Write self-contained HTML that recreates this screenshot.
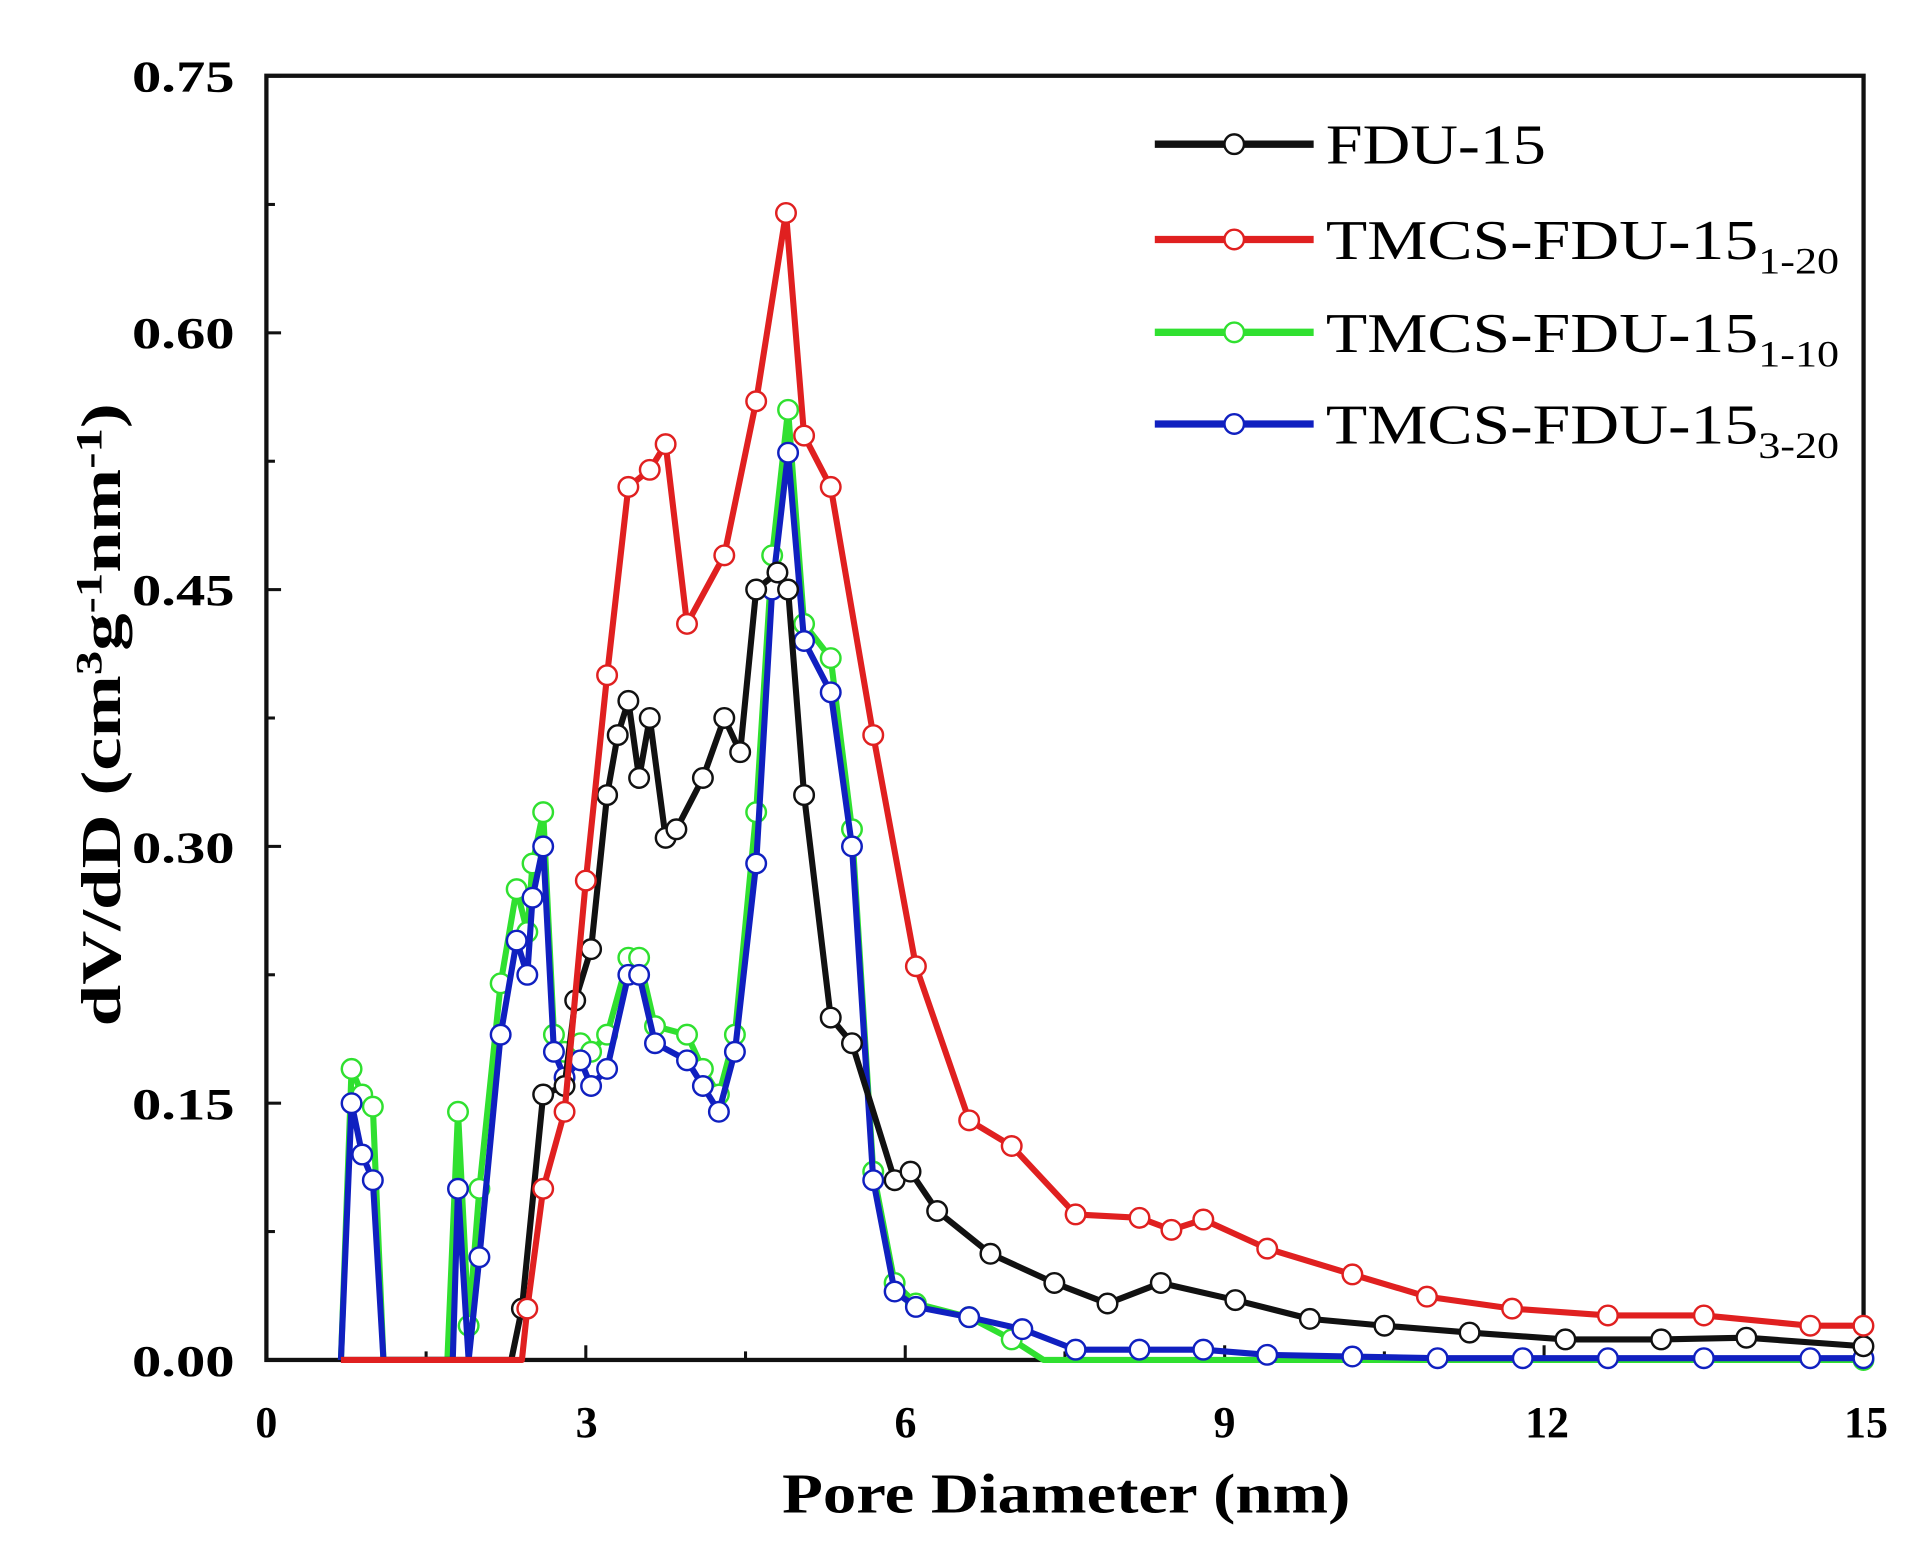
<!DOCTYPE html>
<html><head><meta charset="utf-8"><style>html,body{margin:0;padding:0;background:#fff}svg{display:block}</style></head>
<body>
<svg id="s" width="1910" height="1564" viewBox="0 0 1563 1280" preserveAspectRatio="none" xmlns="http://www.w3.org/2000/svg" font-family="Liberation Serif, serif" font-weight="bold">
<rect x="218" y="62" width="1307" height="1051" fill="none" stroke="#111" stroke-width="3.5"/>
<g id="ticks" stroke="#111" stroke-width="2.5"></g>
<g font-size="36" text-anchor="end">
<text x="192" y="1126" textLength="84" lengthAdjust="spacingAndGlyphs">0.00</text><text x="192" y="916" textLength="84" lengthAdjust="spacingAndGlyphs">0.15</text><text x="192" y="706" textLength="84" lengthAdjust="spacingAndGlyphs">0.30</text><text x="192" y="495" textLength="84" lengthAdjust="spacingAndGlyphs">0.45</text><text x="192" y="285" textLength="84" lengthAdjust="spacingAndGlyphs">0.60</text><text x="192" y="75" textLength="84" lengthAdjust="spacingAndGlyphs">0.75</text>
</g>
<g font-size="36" text-anchor="middle">
<text x="218" y="1176">0</text><text x="480" y="1176">3</text><text x="741" y="1176">6</text><text x="1002" y="1176">9</text><text x="1266" y="1176">12</text><text x="1527" y="1176">15</text>
</g>
<text x="640" y="1238" font-size="46" textLength="465" lengthAdjust="spacingAndGlyphs">Pore Diameter (nm)</text>
<text transform="translate(98,840) rotate(-90)" font-size="46" textLength="510" lengthAdjust="spacingAndGlyphs">dV/dD (cm<tspan dy="-15" font-size="30">3</tspan><tspan dy="15">g</tspan><tspan dy="-15" font-size="30">-1</tspan><tspan dy="15">nm</tspan><tspan dy="-15" font-size="30">-1</tspan><tspan dy="15">)</tspan></text>
<g id="data"></g>
<g font-weight="normal" font-size="46">
<line x1="945" y1="118" x2="1075" y2="118" stroke="#111" stroke-width="6"/><circle cx="1010" cy="118" r="8" fill="#fff" stroke="#111" stroke-width="2"/>
<text x="1085" y="134" textLength="180" lengthAdjust="spacingAndGlyphs">FDU-15</text>
<line x1="945" y1="196" x2="1075" y2="196" stroke="#e02020" stroke-width="6"/><circle cx="1010" cy="196" r="8" fill="#fff" stroke="#e02020" stroke-width="2"/>
<text x="1085" y="212" textLength="420" lengthAdjust="spacingAndGlyphs">TMCS-FDU-15<tspan font-size="30" dy="12">1-20</tspan></text>
<line x1="945" y1="272" x2="1075" y2="272" stroke="#30e030" stroke-width="6"/><circle cx="1010" cy="272" r="8" fill="#fff" stroke="#30e030" stroke-width="2"/>
<text x="1085" y="288" textLength="420" lengthAdjust="spacingAndGlyphs">TMCS-FDU-15<tspan font-size="30" dy="12">1-10</tspan></text>
<line x1="945" y1="347" x2="1075" y2="347" stroke="#1020c0" stroke-width="6"/><circle cx="1010" cy="347" r="8" fill="#fff" stroke="#1020c0" stroke-width="2"/>
<text x="1085" y="363" textLength="420" lengthAdjust="spacingAndGlyphs">TMCS-FDU-15<tspan font-size="30" dy="12">3-20</tspan></text>
</g>
</svg>
<script>
var X=function(x){return 218+x*87.13},Y=function(y){return 1113-y*1401};
var t='';
for(var i=0;i<=15;i+=1.5){var l=(Math.round(i*10)%30==0)?12:7;t+='<line x1="'+X(i)+'" y1="1113" x2="'+X(i)+'" y2="'+(1113-l)+'"/>';}
for(var k=0;k<=10;k++){var v=k*0.075;var l=(k%2==0)?12:7;t+='<line x1="218" y1="'+Y(v)+'" x2="'+(218+l)+'" y2="'+Y(v)+'"/>';}
document.getElementById('ticks').innerHTML=t;
var S={
green:['#30e030',[[0.7,0],[0.8,0.17],[0.9,0.155],[1.0,0.148],[1.1,0],[1.7,0],[1.8,0.145],[1.9,0.02],[2.0,0.1],[2.2,0.22],[2.35,0.275],[2.45,0.25],[2.5,0.29],[2.6,0.32],[2.7,0.19],[2.8,0.18],[2.95,0.185],[3.05,0.18],[3.2,0.19],[3.4,0.235],[3.5,0.235],[3.65,0.195],[3.95,0.19],[4.1,0.17],[4.25,0.155],[4.4,0.19],[4.6,0.32],[4.75,0.47],[4.9,0.555],[5.05,0.43],[5.3,0.41],[5.5,0.31],[5.7,0.11],[5.9,0.045],[6.1,0.033],[6.6,0.025],[7.0,0.012],[7.3,0],[15,0]]],
blue:['#1020c0',[[0.7,0],[0.8,0.15],[0.9,0.12],[1.0,0.105],[1.1,0],[1.75,0],[1.8,0.1],[1.9,0],[2.0,0.06],[2.2,0.19],[2.35,0.245],[2.45,0.225],[2.5,0.27],[2.6,0.3],[2.7,0.18],[2.8,0.165],[2.95,0.175],[3.05,0.16],[3.2,0.17],[3.4,0.225],[3.5,0.225],[3.65,0.185],[3.95,0.175],[4.1,0.16],[4.25,0.145],[4.4,0.18],[4.6,0.29],[4.75,0.45],[4.9,0.53],[5.05,0.42],[5.3,0.39],[5.5,0.3],[5.7,0.105],[5.9,0.04],[6.1,0.031],[6.6,0.025],[7.1,0.018],[7.6,0.006],[8.2,0.006],[8.8,0.006],[9.4,0.003],[10.2,0.002],[11,0.001],[11.8,0.001],[12.6,0.001],[13.5,0.001],[14.5,0.001],[15,0.001]]],
black:['#111',[[0.7,0],[2.3,0],[2.4,0.03],[2.6,0.155],[2.8,0.16],[2.9,0.21],[3.05,0.24],[3.2,0.33],[3.3,0.365],[3.4,0.385],[3.5,0.34],[3.6,0.375],[3.75,0.305],[3.85,0.31],[4.1,0.34],[4.3,0.375],[4.45,0.355],[4.6,0.45],[4.8,0.46],[4.9,0.45],[5.05,0.33],[5.3,0.2],[5.5,0.185],[5.9,0.105],[6.05,0.11],[6.3,0.087],[6.8,0.062],[7.4,0.045],[7.9,0.033],[8.4,0.045],[9.1,0.035],[9.8,0.024],[10.5,0.02],[11.3,0.016],[12.2,0.012],[13.1,0.012],[13.9,0.013],[15,0.008]]],
red:['#e02020',[[0.7,0],[2.4,0],[2.45,0.03],[2.6,0.10],[2.8,0.145],[3.0,0.28],[3.2,0.40],[3.4,0.51],[3.6,0.52],[3.75,0.535],[3.95,0.43],[4.3,0.47],[4.6,0.56],[4.88,0.67],[5.05,0.54],[5.3,0.51],[5.7,0.365],[6.1,0.23],[6.6,0.14],[7.0,0.125],[7.6,0.085],[8.2,0.083],[8.5,0.076],[8.8,0.082],[9.4,0.065],[10.2,0.05],[10.9,0.037],[11.7,0.03],[12.6,0.026],[13.5,0.026],[14.5,0.02],[15,0.02]]]
};
var h='';
['green','blue','black','red'].forEach(function(k){var c=S[k][0],p=S[k][1];
var d=p.map(function(q,i){return (i?'L':'M')+X(q[0]).toFixed(1)+' '+Y(q[1]).toFixed(1)}).join('');
h+='<path d="'+d+'" fill="none" stroke="'+c+'" stroke-width="5" stroke-linejoin="round"/>';
p.forEach(function(q){if(q[1]>0.002||q[0]>7.5)h+='<circle cx="'+X(q[0]).toFixed(1)+'" cy="'+Y(q[1]).toFixed(1)+'" r="8" fill="#fff" stroke="'+c+'" stroke-width="2"/>';});
});
document.getElementById('data').innerHTML=h;
</script>
</body></html>
